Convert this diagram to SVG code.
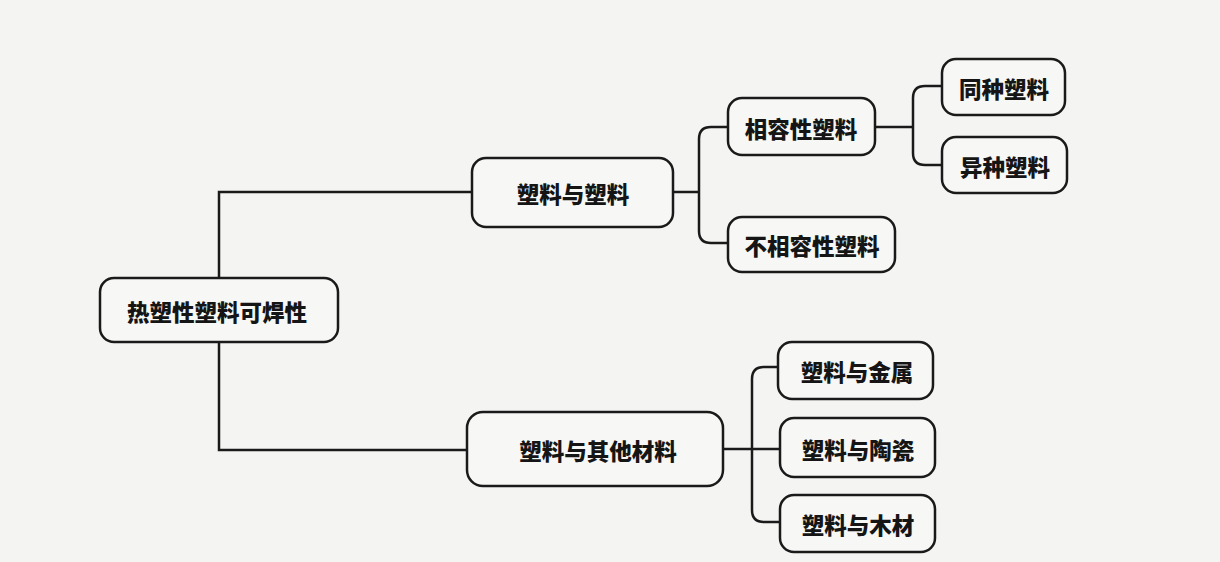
<svg xmlns="http://www.w3.org/2000/svg" width="1220" height="562" viewBox="0 0 1220 562">
<style>
.box{fill:#f7f7f5;stroke:#1a1a1a;stroke-width:2.5}
.lbl{font-family:"Noto Sans CJK SC","Noto Sans",sans-serif;font-weight:900;font-size:22.5px;fill:#151515;text-anchor:middle;dominant-baseline:central}
.con{fill:none;stroke:#1a1a1a;stroke-width:2.5}
</style>
<rect width="1220" height="562" fill="#f4f4f2"/>
<g id="connectors">
<path class="con" d="M219,278 V192 H472"/>
<path class="con" d="M219,342 V450 H467"/>
<path class="con" d="M673,192 H699"/>
<path class="con" d="M729,127 H711 Q699,127 699,139 V231 Q699,243 711,243 H728"/>
<path class="con" d="M875,127 H913"/>
<path class="con" d="M943,86 H925 Q913,86 913,98 V153 Q913,165 925,165 H942"/>
<path class="con" d="M723,449 H780"/>
<path class="con" d="M778,367 H764 Q752,367 752,379 V510 Q752,522 764,522 H780"/>
</g>
<g id="root"><rect class="box" x="100" y="278" width="238" height="64" rx="14"/><text class="lbl" x="217" y="311">热塑性塑料可焊性</text></g>
<g id="n1"><rect class="box" x="472" y="158" width="201" height="69" rx="14"/><text class="lbl" x="573" y="193">塑料与塑料</text></g>
<g id="n11"><rect class="box" x="728" y="98" width="147" height="57" rx="14"/><text class="lbl" x="801" y="128">相容性塑料</text></g>
<g id="n12"><rect class="box" x="728" y="217" width="167" height="55" rx="14"/><text class="lbl" x="812" y="245">不相容性塑料</text></g>
<g id="n111"><rect class="box" x="942" y="59" width="123" height="56" rx="14"/><text class="lbl" x="1004" y="88">同种塑料</text></g>
<g id="n112"><rect class="box" x="942" y="137" width="125" height="56" rx="14"/><text class="lbl" x="1005" y="166">异种塑料</text></g>
<g id="n2"><rect class="box" x="467" y="412" width="256" height="74" rx="16"/><text class="lbl" x="598" y="450">塑料与其他材料</text></g>
<g id="n21"><rect class="box" x="778" y="342" width="155" height="57" rx="14"/><text class="lbl" x="857" y="371">塑料与金属</text></g>
<g id="n22"><rect class="box" x="780" y="418" width="155" height="59" rx="14"/><text class="lbl" x="858" y="449">塑料与陶瓷</text></g>
<g id="n23"><rect class="box" x="780" y="495" width="155" height="57" rx="14"/><text class="lbl" x="858" y="524">塑料与木材</text></g>
</svg>
